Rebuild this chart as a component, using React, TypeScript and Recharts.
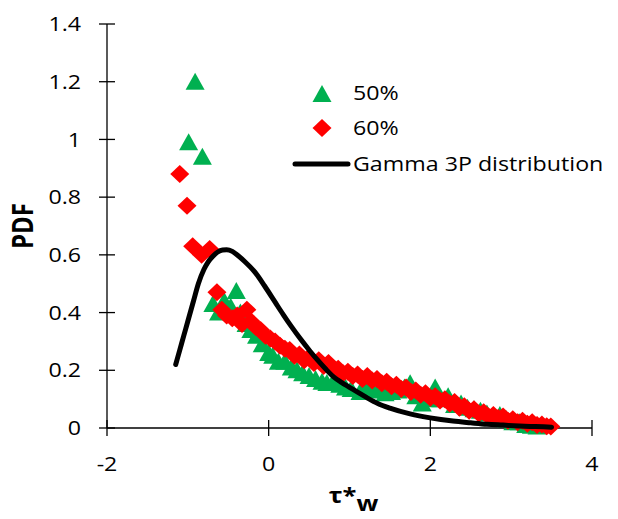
import React from 'react';
import { ComposedChart, Scatter, XAxis, YAxis, Legend } from 'recharts';

const pct50 = [
  [-0.99, 0.99], [-0.91, 1.2], [-0.82, 0.94], [-0.69, 0.43], [-0.62, 0.4], [-0.55, 0.44],
  [-0.47, 0.42], [-0.4, 0.475], [-0.35, 0.4], [-0.28, 0.36], [-0.22, 0.34], [-0.15, 0.32],
  [-0.08, 0.29], [0.0, 0.26], [0.05, 0.25], [0.12, 0.23], [0.2, 0.23], [0.28, 0.21],
  [0.35, 0.2], [0.42, 0.19], [0.5, 0.18], [0.58, 0.17], [0.66, 0.16], [0.72, 0.156],
  [0.8, 0.16], [0.88, 0.15], [0.95, 0.14], [1.02, 0.135], [1.13, 0.125], [1.2, 0.14],
  [1.28, 0.135], [1.36, 0.13], [1.44, 0.12], [1.52, 0.125], [1.6, 0.13], [1.68, 0.14],
  [1.75, 0.155], [1.82, 0.11], [1.9, 0.085], [1.97, 0.1], [2.06, 0.14], [2.13, 0.1],
  [2.22, 0.11], [2.3, 0.08], [2.38, 0.085], [2.46, 0.07], [2.54, 0.065], [2.62, 0.06],
  [2.7, 0.05], [2.78, 0.035], [2.86, 0.045], [2.94, 0.03], [3.02, 0.02], [3.1, 0.02],
  [3.18, 0.01], [3.25, 0.008], [3.32, 0.005],
];

const pct60 = [
  [-1.1, 0.88], [-1.01, 0.77], [-0.94, 0.63], [-0.83, 0.6], [-0.73, 0.62], [-0.64, 0.47],
  [-0.58, 0.41], [-0.52, 0.39], [-0.45, 0.38], [-0.39, 0.39], [-0.33, 0.36], [-0.27, 0.41],
  [-0.22, 0.37], [-0.16, 0.35], [-0.1, 0.34], [-0.04, 0.32], [0.02, 0.31], [0.08, 0.3],
  [0.14, 0.285], [0.2, 0.275], [0.26, 0.27], [0.32, 0.25], [0.38, 0.255], [0.44, 0.235],
  [0.5, 0.245], [0.56, 0.225], [0.62, 0.235], [0.68, 0.215], [0.74, 0.225], [0.8, 0.205],
  [0.86, 0.205], [0.92, 0.19], [0.98, 0.195], [1.04, 0.18], [1.1, 0.185], [1.16, 0.17],
  [1.22, 0.18], [1.28, 0.165], [1.34, 0.17], [1.4, 0.155], [1.46, 0.16], [1.52, 0.145],
  [1.58, 0.15], [1.64, 0.135], [1.7, 0.14], [1.76, 0.125], [1.82, 0.13], [1.88, 0.115],
  [1.94, 0.12], [2.0, 0.105], [2.06, 0.11], [2.12, 0.095], [2.18, 0.1], [2.24, 0.085],
  [2.3, 0.09], [2.36, 0.07], [2.42, 0.075], [2.48, 0.06], [2.54, 0.065], [2.6, 0.05],
  [2.66, 0.055], [2.72, 0.04], [2.78, 0.045], [2.84, 0.035], [2.9, 0.04], [2.96, 0.025],
  [3.02, 0.03], [3.08, 0.02], [3.14, 0.025], [3.2, 0.015], [3.26, 0.02], [3.32, 0.01],
  [3.38, 0.012], [3.44, 0.006], [3.49, 0.005],
];

const gamma3p = [
  [-1.15, 0.22], [-1.1, 0.27], [-1.05, 0.32], [-1.0, 0.37], [-0.93, 0.44], [-0.87, 0.5],
  [-0.8, 0.55], [-0.75, 0.575], [-0.69, 0.595], [-0.63, 0.61], [-0.57, 0.617], [-0.52, 0.618],
  [-0.45, 0.612], [-0.4, 0.602], [-0.3, 0.578], [-0.17, 0.54], [-0.05, 0.492], [0.08, 0.436],
  [0.18, 0.393], [0.28, 0.352], [0.39, 0.31], [0.51, 0.267], [0.59, 0.24], [0.7, 0.206],
  [0.8, 0.178], [0.9, 0.158], [1.0, 0.141], [1.1, 0.124], [1.21, 0.106], [1.35, 0.085],
  [1.5, 0.069], [1.75, 0.049], [2.0, 0.035], [2.28, 0.024], [2.5, 0.018], [2.7, 0.013],
  [2.9, 0.01], [3.1, 0.007], [3.3, 0.005], [3.5, 0.003],
];

const xTicks = [-2, 0, 2, 4];
const yTicks = [0, 0.2, 0.4, 0.6, 0.8, 1, 1.2, 1.4];

const legendItems = ['50%', '60%', 'Gamma 3P distribution'];

const toPts = (arr: number[][]) => arr.map(([x, y]) => ({ x, y }));

const FONT = '"Open Sans", sans-serif';
const STRETCH = 1.16;
const GREEN = '#00B050';
const RED = '#FF0000';
const TICK = 8;

const Triangle = ({ cx, cy }: any) => (
  <polygon points={`${cx},${cy - 9} ${cx + 9.5},${cy + 8} ${cx - 9.5},${cy + 8}`} fill={GREEN} />
);

const Diamond = ({ cx, cy }: any) => (
  <polygon points={`${cx},${cy - 9} ${cx + 9.5},${cy} ${cx},${cy + 9} ${cx - 9.5},${cy}`} fill={RED} />
);

const NoDot = () => null;

const XTick = ({ x, y, payload }: any) => {
  const axisY = y - TICK - 21;
  return (
    <g>
      <line x1={x} x2={x} y1={axisY - TICK} y2={axisY} stroke="#000" strokeWidth={1.3} />
      <text
        transform={`translate(${x},${y}) scale(${STRETCH},1)`}
        dy="0.71em"
        textAnchor="middle"
        fontSize={20}
        fontFamily={FONT}
        fill="#000"
      >
        {payload.value}
      </text>
    </g>
  );
};

const YTick = ({ x, y, payload }: any) => {
  const axisX = x + TICK + 18;
  return (
    <g>
      <line x1={axisX} x2={axisX + TICK} y1={y} y2={y} stroke="#000" strokeWidth={1.3} />
      <text
        transform={`translate(${x},${y}) scale(${STRETCH},1)`}
        dy="0.36em"
        textAnchor="end"
        fontSize={20}
        fontFamily={FONT}
        fill="#000"
      >
        {payload.value}
      </text>
    </g>
  );
};

const LegendBox = () => (
  <div style={{ fontFamily: FONT, fontSize: 20, color: '#000', lineHeight: '24px' }}>
    {legendItems.map((name, i) => (
      <div key={name} style={{ display: 'flex', alignItems: 'center', height: i === 2 ? 38 : 35 }}>
        <svg width={63} height={30} style={{ flex: 'none' }}>
          {i === 0 && <Triangle cx={32} cy={16} />}
          {i === 1 && <Diamond cx={32} cy={15} />}
          {i === 2 && <line x1={5} x2={58} y1={15} y2={15} stroke="#000" strokeWidth={5} strokeLinecap="round" />}
        </svg>
        <span style={{ display: 'inline-block', whiteSpace: 'nowrap', transform: `scaleX(${STRETCH})`, transformOrigin: 'left center' }}>
          {name}
        </span>
      </div>
    ))}
  </div>
);

export default function App() {
  return (
    <div style={{ position: 'absolute', left: 0, top: 0 }}>
      <ComposedChart width={618} height={519} margin={{ top: 24, right: 26, left: 0, bottom: 0 }}>
        <XAxis
          type="number"
          dataKey="x"
          domain={[-2, 4]}
          ticks={xTicks}
          height={91}
          tickSize={TICK}
          tickMargin={21}
          axisLine={{ stroke: '#000', strokeWidth: 1.3 }}
          tickLine={{ stroke: '#000', strokeWidth: 1.3 }}
          tick={<XTick />}
          label={{
            content: ({ viewBox }: any) => (
              <text
                transform={`translate(${viewBox.x + viewBox.width / 2 + 4},${viewBox.y + 75}) scale(${STRETCH},1)`}
                textAnchor="middle"
                fontSize={22}
                fontWeight="bold"
                fontFamily={FONT}
                fill="#000"
              >
                τ*<tspan dy={8}>w</tspan>
              </text>
            ),
          }}
        />
        <YAxis
          type="number"
          dataKey="y"
          domain={[0, 1.4]}
          ticks={yTicks}
          width={107}
          tickSize={TICK}
          tickMargin={18}
          axisLine={{ stroke: '#000', strokeWidth: 1.3 }}
          tickLine={{ stroke: '#000', strokeWidth: 1.3 }}
          tick={<YTick />}
          label={{
            content: ({ viewBox }: any) => {
              const cy = viewBox.y + viewBox.height / 2;
              return (
                <text
                  transform={`translate(23,${cy}) scale(${STRETCH},1) rotate(-90)`}
                  dy="0.36em"
                  textAnchor="middle"
                  fontSize={24}
                  fontWeight="bold"
                  fontFamily={FONT}
                  fill="#000"
                >
                  PDF
                </text>
              );
            },
          }}
        />
        <Legend
          layout="horizontal"
          verticalAlign="middle"
          align="center"
          content={<LegendBox />}
          wrapperStyle={{ top: 75, left: 290, width: 320 }}
        />
        <Scatter name="50%" data={toPts(pct50)} shape={<Triangle />} isAnimationActive={false} />
        <Scatter name="60%" data={toPts(pct60)} shape={<Diamond />} isAnimationActive={false} />
        <Scatter
          name="Gamma 3P distribution"
          data={toPts(gamma3p)}
          shape={<NoDot />}
          line={{ stroke: '#000', strokeWidth: 5, fill: 'none', strokeLinecap: 'round' }}
          lineType="joint"
          lineJointType="monotoneX"
          isAnimationActive={false}
        />
      </ComposedChart>
    </div>
  );
}
